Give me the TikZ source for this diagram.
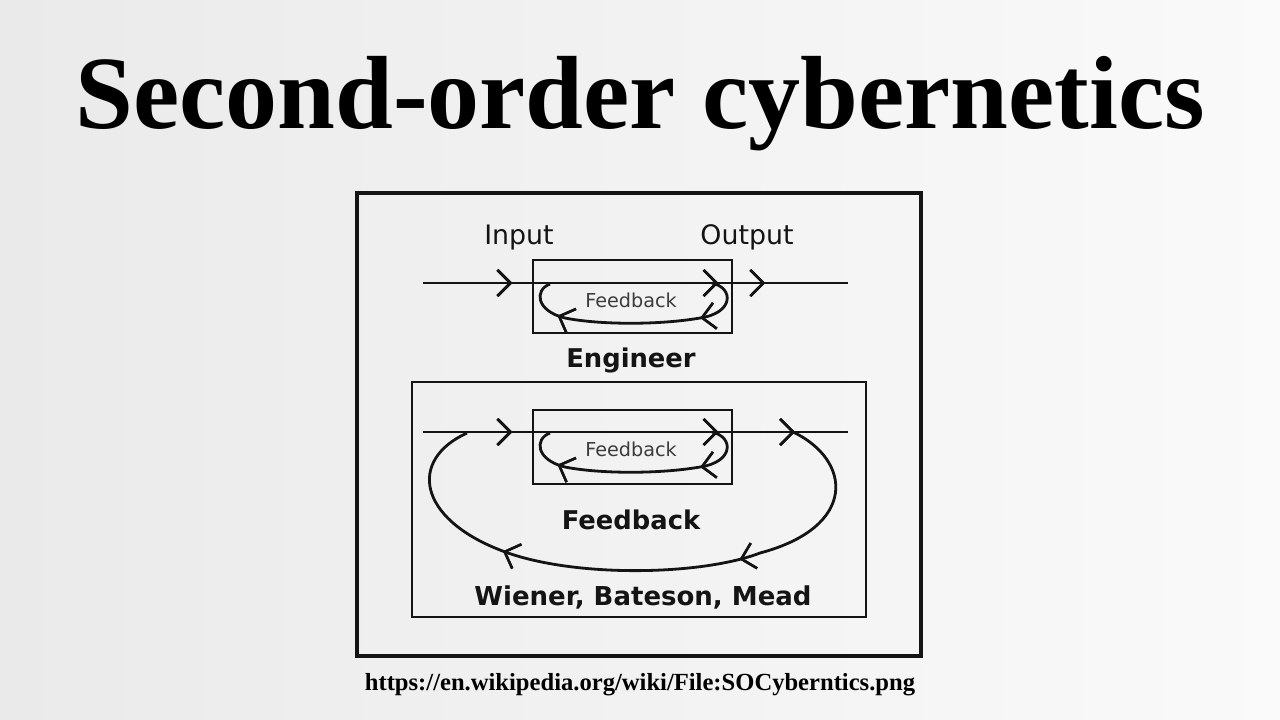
\documentclass[tikz,border=0pt]{standalone}
\usepackage{fontspec}
\setmainfont{Liberation Serif}
\newfontfamily\verd{DejaVu Sans}
\usetikzlibrary{arrows.meta,decorations.markings}
\definecolor{bgl}{RGB}{234,234,234}
\definecolor{bgr}{RGB}{250,250,250}
\definecolor{ink}{RGB}{20,20,20}
\definecolor{soft}{RGB}{60,60,60}
\tikzset{
  box/.style={draw=ink,line width=2.6pt,inner sep=0pt},
  wire/.style={draw=ink,line width=2.8pt},
  chev/.style={decoration={markings,mark=at position #1 with {\arrow{Straight Barb[length=13pt,width=26pt,line width=2.5pt]}}},postaction={decorate}},
  lbl/.style={font=\verd\fontsize{26.8}{30}\selectfont,text=ink,inner sep=0pt,anchor=base},
  blbl/.style={font=\verd\bfseries\fontsize{25.8}{28}\selectfont,text=ink,inner sep=0pt},
  slbl/.style={font=\verd\fontsize{19.2}{21}\selectfont,text=soft,inner sep=0pt},
}
\begin{document}
\begin{tikzpicture}[x=1pt,y=-1pt]
\useasboundingbox (0,0) rectangle (1280,720);
\shade[left color=bgl,right color=bgr] (0,0) rectangle (1280,720);
% title
\node[font=\bfseries\fontsize{104}{110}\selectfont,inner sep=0pt] (title) at (640,104) {Second-order cybernetics};
% outer frame
\node[box,line width=3.2pt,minimum width=564pt,minimum height=463pt] (outer) at (639,424.5) {};
% engineer part
\node[box,minimum width=199pt,minimum height=73pt] (ebox) at (632.5,296.5) {};
\node[lbl] (inp) at (519,244) {Input};
\node[lbl] (outp) at (747,244) {Output};
\coordinate (l1a) at (423,283);
\coordinate (l1b) at (848,283);
\draw[wire,chev=0.21,chev=0.695,chev=0.805] (l1a) -- (l1b);
\node[slbl] (fb1) at (631,300) {Feedback};
\draw[wire,chev=0.24,chev=0.82] (712,283) .. controls (734,288) and (734,313) .. (700,318) .. controls (660,325) and (600,325) .. (565,318) .. controls (536,311) and (534,290) .. (550,284);
\node[blbl] (eng) at (631,360) {Engineer};
% second-order part
\node[box,minimum width=454pt,minimum height=235pt] (sbox) at (639,499.5) {};
\node[box,minimum width=199pt,minimum height=74pt] (ibox) at (632.5,447) {};
\coordinate (l2a) at (423,432);
\coordinate (l2b) at (848,432);
\draw[wire,chev=0.21,chev=0.695,chev=0.875] (l2a) -- (l2b);
\node[slbl] (fb2) at (631,449) {Feedback};
\draw[wire,chev=0.24,chev=0.82] (712,432) .. controls (734,437) and (734,462) .. (700,467) .. controls (660,474) and (600,474) .. (565,467) .. controls (536,460) and (534,439) .. (550,433);
\draw[wire,chev=0.33,chev=0.72] (793,432) .. controls (852,460) and (858,527) .. (760,553) .. controls (700,576) and (570,578) .. (500,550) .. controls (418,518) and (408,460) .. (467,433);
\node[blbl] (fb3) at (631,520) {Feedback};
\node[blbl,font=\verd\bfseries\fontsize{26}{28}\selectfont] (wbm) at (643,597) {Wiener, Bateson, Mead};
% source
\node[font=\bfseries\fontsize{24.6}{26}\selectfont,inner sep=0pt] (src) at (640,685) {https://en.wikipedia.org/wiki/File:SOCyberntics.png};
\end{tikzpicture}
\end{document}
